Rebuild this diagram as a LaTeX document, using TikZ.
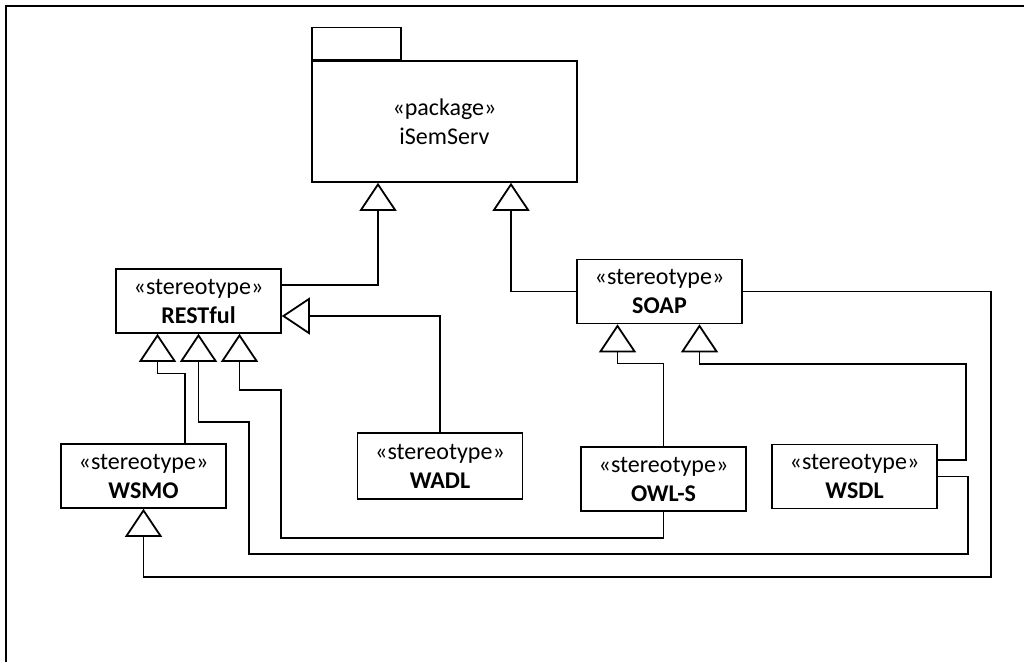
\documentclass[tikz,border=0pt]{standalone}
\usepackage{fontspec}
\setmainfont{Carlito}
\usepackage{tikz}
\usetikzlibrary{positioning,calc,arrows.meta}

\tikzset{
  stereo/.style={draw, line width=1.6pt, minimum width=165pt, minimum height=64pt,
    align=center, inner sep=2pt, font=\fontsize{24}{29}\selectfont},
  gen/.style={line width=1.2pt, -{Triangle[open,length=28pt,width=37pt,line width=1.8pt]}},
}

\begin{document}
\begin{tikzpicture}[x=1pt,y=-1pt]
    \useasboundingbox (0,0) rectangle (1024,662);
    \draw[line width=2.2pt] (1024,6) -- (6,6) -- (6,662);

    % package
    \node[stereo, minimum width=265pt, minimum height=121pt] (pkg) at (444.5,121.5) {«package»\\iSemServ};
    \node[draw, line width=1.6pt, minimum width=89pt, minimum height=32pt, inner sep=0pt,
          anchor=south west] (tab) at (pkg.north west) {};

    % stereotypes
    \node[stereo] (restful) at (198.5,301) {«stereotype»\\\textbf{RESTful}};
    \node[stereo] (soap) at (659.5,291.5) {«stereotype»\\\textbf{SOAP}};
    \node[stereo] (wsmo) at (143.5,476) {«stereotype»\\\textbf{WSMO}};
    \node[stereo, minimum height=66pt] (wadl) at (440,466) {«stereotype»\\\textbf{WADL}};
    \node[stereo] (owls) at (663.5,479) {«stereotype»\\\textbf{OWL-S}};
    \node[stereo] (wsdl) at (854.5,476.5) {«stereotype»\\\textbf{WSDL}};

    % generalisations
    \draw[gen] ([yshift=16pt]restful.east) -| ([xshift=-66.5pt]pkg.south);
    \draw[gen] (soap.west) -| ([xshift=66.5pt]pkg.south);
    \draw[gen] (wadl.north) |- ([yshift=-15pt]restful.east);
    \draw[gen] ([xshift=41.5pt]wsmo.north) -- ++(0,-70) -| ([xshift=-41pt]restful.south);
    \draw[gen] (wsdl.east) -| (968,554) -- (249,554) -- (249,422) -| (restful.south);
    \draw[gen] (owls.south) |- (281,538) -- (281,390) -| ([xshift=41pt]restful.south);
    \draw[gen] (soap.east) -| (991,577) -| (wsmo.south);
    \draw[gen] (owls.north) -- ++(0,-83) -| ([xshift=-42pt]soap.south);
    \draw[gen] ([yshift=16.5pt]wsdl.east) -| (966,364) -| ([xshift=40pt]soap.south);
\end{tikzpicture}
\end{document}
